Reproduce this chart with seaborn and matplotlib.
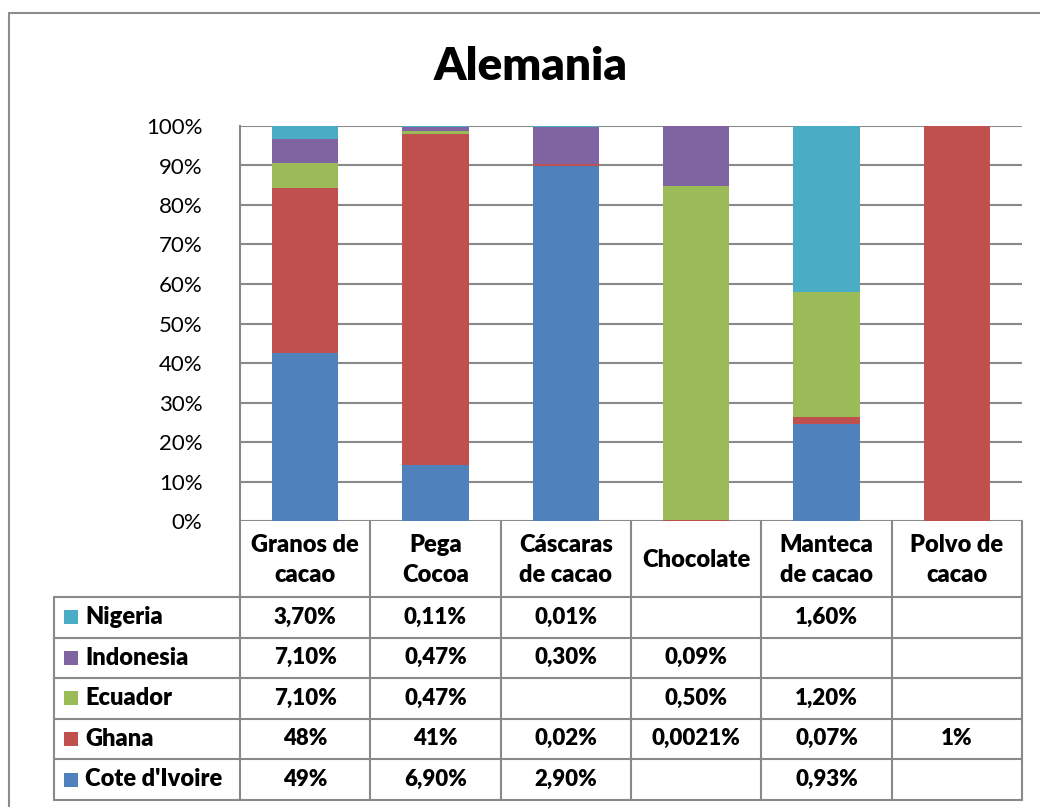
import numpy as np
import pandas as pd
import matplotlib
matplotlib.use("Agg")
import matplotlib.pyplot as plt
from matplotlib.lines import Line2D
from matplotlib.patches import Rectangle
from matplotlib.ticker import PercentFormatter
import seaborn as sns

# ---------------- data ----------------
title = "Alemania"
categories = ["Granos de\ncacao", "Pega\nCocoa", "Cáscaras\nde cacao",
              "Chocolate", "Manteca\nde cacao", "Polvo de\ncacao"]
series = ["Cote d'Ivoire", "Ghana", "Ecuador", "Indonesia", "Nigeria"]  # bottom -> top
colors = ["#4F81BD", "#C0504D", "#9BBB59", "#8064A2", "#4BACC6"]

cote      = [49, 6.9, 2.9, np.nan, 0.93, np.nan]
ghana     = [48, 41, 0.02, 0.0021, 0.07, 1]
ecuador   = [7.1, 0.47, np.nan, 0.5, 1.2, np.nan]
indonesia = [7.1, 0.47, 0.30, 0.09, np.nan, np.nan]
nigeria   = [3.7, 0.11, 0.01, np.nan, 1.6, np.nan]

cote_lbl      = ["49%", "6,90%", "2,90%", "", "0,93%", ""]
ghana_lbl     = ["48%", "41%", "0,02%", "0,0021%", "0,07%", "1%"]
ecuador_lbl   = ["7,10%", "0,47%", "", "0,50%", "1,20%", ""]
indonesia_lbl = ["7,10%", "0,47%", "0,30%", "0,09%", "", ""]
nigeria_lbl   = ["3,70%", "0,11%", "0,01%", "", "1,60%", ""]

yticks = [0, 10, 20, 30, 40, 50, 60, 70, 80, 90, 100]

# ---------------- style ----------------
sns.set_style("white")
plt.rcParams['font.family'] = ['Lato', 'DejaVu Sans']

W, H = 1040, 807
fig = plt.figure(figsize=(W / 100, H / 100), dpi=100)

def fx(x):
    return x / W

def fy(y):
    return 1 - y / H

L, R, T, B = 240, 1022, 126, 521
ax = fig.add_axes([fx(L), fy(B), fx(R) - fx(L), fy(T) - fy(B)])

vals = np.array([cote, ghana, ecuador, indonesia, nigeria], dtype=float)
vals0 = np.nan_to_num(vals)
pct = vals0 / vals0.sum(axis=0) * 100
cum = np.cumsum(pct, axis=0)

# draw stacked bars from top layer down so lower layers cover
for i in range(len(series) - 1, -1, -1):
    df = pd.DataFrame({"cat": categories, "val": cum[i]})
    sns.barplot(data=df, x="cat", y="val", color=colors[i], saturation=1,
                width=0.51, linewidth=0, ax=ax, order=categories)

grid_c = "#898989"
ax.set_ylim(0, 100)
ax.set_xlim(-0.5, len(categories) - 0.5)
ax.set_yticks(yticks)
ax.yaxis.set_major_formatter(PercentFormatter(decimals=0))
ax.grid(axis="y", color=grid_c, linewidth=1.5)
ax.set_axisbelow(True)
ax.set_xticks([])
ax.set_xlabel("")
ax.set_ylabel("")
for s in ["top", "right", "bottom"]:
    ax.spines[s].set_visible(False)
ax.spines["left"].set_color(grid_c)
ax.spines["left"].set_linewidth(1.5)
ax.tick_params(axis="y", length=0, pad=27, labelsize=16, labelcolor="black")

# ---------------- title ----------------
fig.text(fx(531), fy(66), title, ha="center", va="center",
         fontsize=33, fontweight="heavy", color="black")

# ---------------- data table ----------------
ncol = len(categories)
colw = (R - L) / ncol
rows_y = [597, 637.5, 678, 718.5, 759, 800]
LEG_L = 54

def hline(y, x0, x1):
    fig.add_artist(Line2D([fx(x0), fx(x1)], [fy(y), fy(y)], color=grid_c, lw=1.5))

def vline(x, y0, y1):
    fig.add_artist(Line2D([fx(x), fx(x)], [fy(y0), fy(y1)], color=grid_c, lw=1.5))

for y in rows_y:
    hline(y, LEG_L, R)
for k in range(ncol + 1):
    vline(L + k * colw, B, rows_y[-1])
vline(LEG_L, rows_y[0], rows_y[-1])

# header
for k, c in enumerate(categories):
    fig.text(fx(L + (k + 0.5) * colw), fy((B + rows_y[0]) / 2 + 1), c,
             ha="center", va="center", fontsize=17, fontweight="heavy",
             linespacing=1.42, color="black")

# rows (top -> bottom: Nigeria ... Cote d'Ivoire)
row_series = ["Nigeria", "Indonesia", "Ecuador", "Ghana", "Cote d'Ivoire"]
row_colors = ["#4BACC6", "#8064A2", "#9BBB59", "#C0504D", "#4F81BD"]
row_labels = [nigeria_lbl, indonesia_lbl, ecuador_lbl, ghana_lbl, cote_lbl]
for r in range(len(row_series)):
    yc = (rows_y[r] + rows_y[r + 1]) / 2
    fig.add_artist(Rectangle((fx(64), fy(yc + 7)), fx(14), 14 / H,
                             facecolor=row_colors[r], edgecolor="none"))
    fig.text(fx(85), fy(yc), row_series[r], ha="left", va="center",
             fontsize=17, fontweight="heavy", color="black")
    for k in range(ncol):
        fig.text(fx(L + (k + 0.5) * colw), fy(yc), row_labels[r][k],
                 ha="center", va="center", fontsize=16, fontweight="heavy",
                 color="black")

# chart area border
fig.add_artist(Rectangle((fx(9), fy(H + 20)), fx(W + 20), (H + 20 - 13) / H,
                         facecolor="none", edgecolor="#8c8c8c", lw=1.5))

fig.savefig("out.png", dpi=100)
